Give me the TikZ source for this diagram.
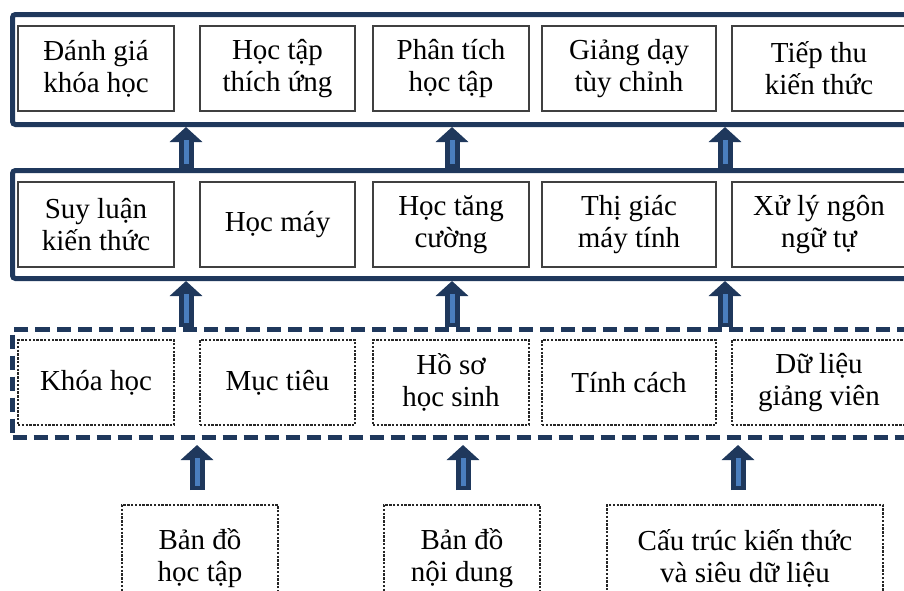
\documentclass[tikz,border=0pt]{standalone}
\usepackage{fontspec}
\setmainfont{Liberation Serif}
\usetikzlibrary{arrows.meta}
\definecolor{framenavy}{RGB}{31,56,92}
\definecolor{arrowblue}{RGB}{74,126,190}

\begin{document}
\begin{tikzpicture}[x=1pt,y=-1pt,
  every node/.style={font=\fontsize{29}{32}\selectfont, align=center, inner sep=0pt},
  layer/.style={draw=framenavy, line width=5pt, rounded corners=3pt, anchor=north west, minimum width=920pt},
  inbox/.style={draw=black!75, line width=1.1pt, minimum height=85pt},
  databox/.style={draw=black!85, line width=1.2pt, dash pattern=on 2.4pt off 1.4pt, minimum height=85pt},
  srcbox/.style={databox, minimum height=106pt},
  uparrow/.style={draw=framenavy, line width=15pt, -{Triangle[length=15pt,width=32pt]},
    postaction={draw=arrowblue, line width=5pt, -, shorten >=13pt, shorten <=4pt}}]
  \clip (0,0) rectangle (904,590);
  % three layers
  \node[layer, minimum height=110pt] (top) at (10,12) {};
  \node[layer, minimum height=108pt] (mid) at (10,168) {};
  \node[layer, minimum height=108pt, dash pattern=on 14pt off 7pt, rounded corners=0pt] (data) at (10,327) {};
  % applications
  \node[inbox, minimum width=156pt] (t1) at (96,68.5) {Đánh giá\\khóa học};
  \node[inbox, minimum width=155pt] (t2) at (277.5,68.5) {Học tập\\thích ứng};
  \node[inbox, minimum width=156pt] (t3) at (451,68.5) {Phân tích\\học tập};
  \node[inbox, minimum width=174pt] (t4) at (629,68.5) {Giảng dạy\\tùy chỉnh};
  \node[inbox, minimum width=174pt] (t5) at (819,68.5) {Tiếp thu\\kiến thức};
  % techniques
  \node[inbox, minimum width=156pt] (m1) at (96,224.5) {Suy luận\\kiến thức};
  \node[inbox, minimum width=155pt] (m2) at (277.5,224.5) {Học máy};
  \node[inbox, minimum width=156pt] (m3) at (451,224.5) {Học tăng\\cường};
  \node[inbox, minimum width=174pt] (m4) at (629,224.5) {Thị giác\\máy tính};
  \node[inbox, minimum width=174pt] (m5) at (819,224.5) {Xử lý ngôn\\ngữ tự};
  % data
  \node[databox, minimum width=156pt] (d1) at (96,382.5) {Khóa học};
  \node[databox, minimum width=155pt] (d2) at (277.5,382.5) {Mục tiêu};
  \node[databox, minimum width=156pt] (d3) at (451,382.5) {Hồ sơ\\học sinh};
  \node[databox, minimum width=174pt] (d4) at (629,382.5) {Tính cách};
  \node[databox, minimum width=174pt] (d5) at (819,382.5) {Dữ liệu\\giảng viên};
  % sources
  \node[srcbox, minimum width=156pt] (s1) at (200,558) {Bản đồ\\học tập};
  \node[srcbox, minimum width=156pt] (s2) at (462,558) {Bản đồ\\nội dung};
  \node[srcbox, minimum width=276pt] (s3) at (745,558) {Cấu trúc kiến thức\\và siêu dữ liệu};
  % arrows
  \coordinate (c1) at (186,0);
  \coordinate (c2) at (452,0);
  \coordinate (c3) at (725,0);
  \coordinate (f1) at (197,490); \coordinate (h1) at (197,445);
  \coordinate (f2) at (463,490); \coordinate (h2) at (463,445);
  \coordinate (f3) at (738,490); \coordinate (h3) at (738,445);
  \draw[uparrow] (mid.north -| c1) -- (top.south -| c1);
  \draw[uparrow] (mid.north -| c2) -- (top.south -| c2);
  \draw[uparrow] (mid.north -| c3) -- (top.south -| c3);
  \draw[uparrow] (data.north -| c1) -- (mid.south -| c1);
  \draw[uparrow] (data.north -| c2) -- (mid.south -| c2);
  \draw[uparrow] (data.north -| c3) -- (mid.south -| c3);
  \draw[uparrow] (f1) -- (h1);
  \draw[uparrow] (f2) -- (h2);
  \draw[uparrow] (f3) -- (h3);
\end{tikzpicture}
\end{document}
